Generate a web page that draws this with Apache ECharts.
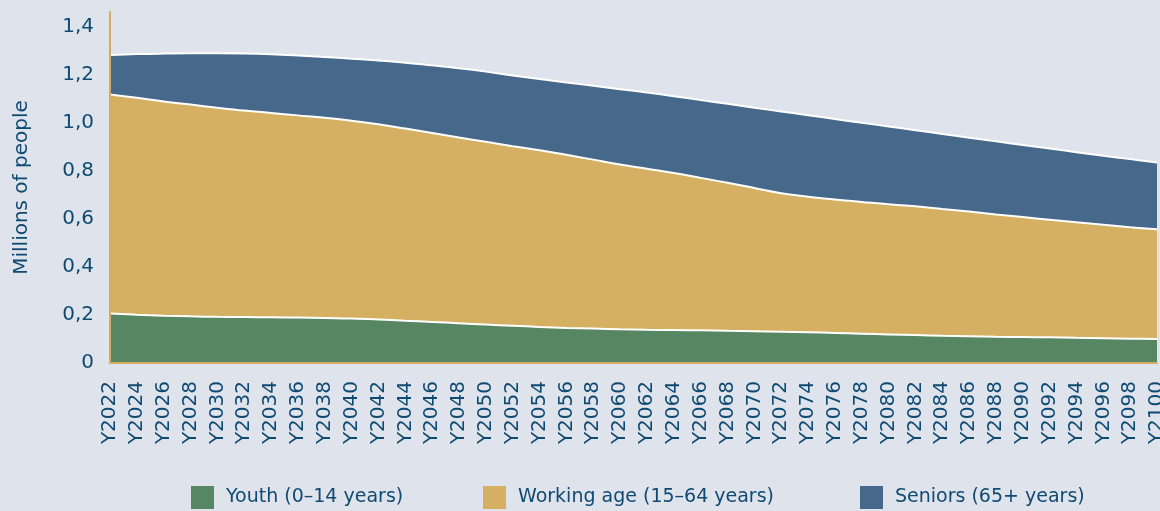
<!DOCTYPE html>
<html>
<head>
<meta charset="utf-8">
<script src="https://cdn.jsdelivr.net/npm/echarts@6/dist/echarts.min.js"></script>
<style>
  html, body { margin: 0; padding: 0; background: #dfe3eb; }
  #chart { width: 1160px; height: 511px; }
</style>
</head>
<body>
<div id="chart"></div>
<script>
// Population projection by age group, millions of people
const years = [
  'Y2022','Y2024','Y2026','Y2028','Y2030','Y2032','Y2034','Y2036','Y2038','Y2040',
  'Y2042','Y2044','Y2046','Y2048','Y2050','Y2052','Y2054','Y2056','Y2058','Y2060',
  'Y2062','Y2064','Y2066','Y2068','Y2070','Y2072','Y2074','Y2076','Y2078','Y2080',
  'Y2082','Y2084','Y2086','Y2088','Y2090','Y2092','Y2094','Y2096','Y2098','Y2100'
];

const youth = [
  0.206, 0.201, 0.197, 0.194, 0.192, 0.191, 0.190, 0.189, 0.187, 0.185,
  0.181, 0.176, 0.171, 0.165, 0.160, 0.155, 0.150, 0.146, 0.143, 0.140,
  0.138, 0.137, 0.136, 0.134, 0.132, 0.130, 0.128, 0.125, 0.122, 0.119,
  0.116, 0.113, 0.111, 0.109, 0.108, 0.107, 0.105, 0.103, 0.101, 0.100
];

const workingAge = [
  0.911, 0.902, 0.891, 0.881, 0.870, 0.859, 0.850, 0.841, 0.833, 0.823,
  0.812, 0.799, 0.786, 0.773, 0.760, 0.747, 0.735, 0.720, 0.703, 0.686,
  0.670, 0.653, 0.634, 0.616, 0.596, 0.576, 0.564, 0.555, 0.548, 0.541,
  0.536, 0.528, 0.519, 0.509, 0.499, 0.489, 0.480, 0.472, 0.464, 0.456
];

const seniors = [
  0.164, 0.182, 0.199, 0.213, 0.226, 0.237, 0.244, 0.249, 0.253, 0.258,
  0.265, 0.274, 0.281, 0.288, 0.292, 0.294, 0.296, 0.301, 0.307, 0.313,
  0.317, 0.320, 0.324, 0.328, 0.334, 0.340, 0.339, 0.335, 0.329, 0.324,
  0.316, 0.312, 0.307, 0.304, 0.300, 0.296, 0.292, 0.287, 0.283, 0.278
];

const seriesNames = ['Youth (0–14 years)', 'Working age (15–64 years)', 'Seniors (65+ years)'];
const seriesColors = ['#578762', '#d5b062', '#46688b'];
const seriesData = [youth, workingAge, seniors];
const legendLeft = [191, 483, 860];

const textColor = '#0f4a72';
const axisGold = '#d5ad5e';
const fontFamily = '"DejaVu Sans", sans-serif';

const chart = echarts.init(document.getElementById('chart'), null, { renderer: 'canvas' });

chart.setOption({
  backgroundColor: '#dfe3eb',
  animation: false,
  textStyle: { fontFamily: fontFamily, color: textColor },
  // one legend block per series so each entry sits at its own spot
  legend: seriesNames.map(function (name, i) {
    return {
      left: legendLeft[i],
      top: 486,
      padding: 0,
      itemWidth: 23,
      itemHeight: 23,
      itemGap: 10,
      icon: 'rect',
      textStyle: { fontFamily: fontFamily, fontSize: 19, color: textColor, padding: [0, 0, 0, 7] },
      data: [name]
    };
  }),
  grid: { left: 110, right: 3, top: 12, bottom: 148, containLabel: false, outerBoundsMode: 'none' },
  xAxis: {
    type: 'category',
    data: years,
    boundaryGap: false,
    z: 10,
    axisLine: { show: true, lineStyle: { color: axisGold, width: 2 } },
    axisTick: { show: false },
    splitLine: { show: false },
    axisLabel: {
      interval: 0,
      rotate: 90,
      margin: 18,
      fontSize: 20,
      fontFamily: fontFamily,
      color: textColor
    }
  },
  yAxis: {
    type: 'value',
    min: 0,
    max: 1.46,
    interval: 0.2,
    z: 10,
    name: 'Millions of people',
    nameLocation: 'middle',
    nameGap: 78,
    nameTextStyle: { fontSize: 20, fontFamily: fontFamily, color: textColor },
    axisLine: { show: true, lineStyle: { color: axisGold, width: 2 } },
    axisTick: { show: false },
    splitLine: { show: false },
    axisLabel: {
      margin: 16,
      fontSize: 20,
      fontFamily: fontFamily,
      color: textColor,
      showMaxLabel: false,
      formatter: function (v) {
        return v === 0 ? '0' : v.toFixed(1).replace('.', ',');
      }
    }
  },
  series: seriesData.map(function (d, i) {
    return {
      name: seriesNames[i],
      type: 'line',
      stack: 'population',
      data: d,
      smooth: 0.4,
      showSymbol: false,
      symbol: 'none',
      color: seriesColors[i],
      lineStyle: { color: '#ffffff', width: 2 },
      areaStyle: { color: seriesColors[i], opacity: 1 },
      // lower bands drawn last so their white top edge stays visible
      z: 6 - i
    };
  })
});
</script>
</body>
</html>
